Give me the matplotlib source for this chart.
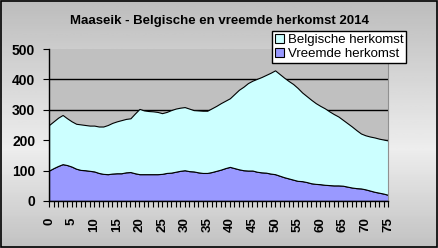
import matplotlib.pyplot as plt
import numpy as np

# ages 0..75
ages = list(range(76))

vreemde = [100, 108, 115, 121, 118, 113, 106, 102, 101, 99,
           97, 92, 89, 88, 90, 91, 91, 94, 95, 91,
           88, 88, 88, 88, 88, 89, 92, 93, 96, 99,
           101, 98, 97, 94, 92, 92, 95, 99, 103, 108,
           112, 108, 104, 101, 100, 100, 96, 94, 93, 90,
           88, 83, 78, 74, 70, 66, 65, 62, 58, 56,
           55, 53, 52, 51, 51, 50, 47, 44, 42, 41,
           38, 34, 30, 27, 24, 20]

belgische = [150, 154, 159, 162, 154, 149, 148, 150, 149, 149,
             151, 153, 156, 162, 167, 171, 175, 176, 177, 197,
             215, 210, 208, 207, 205, 200, 201, 206, 208, 208,
             208, 206, 202, 204, 205, 205, 210, 214, 219, 222,
             226, 244, 262, 275, 288, 296, 306, 314, 322, 332,
             342, 335, 328, 321, 315, 306, 292, 283, 275, 266,
             258, 252, 243, 235, 227, 217, 209, 201, 191, 181,
             178, 178, 179, 178, 178, 179]

fig = plt.figure(figsize=(4.38, 2.48), dpi=100)

# grey gradient background with a black frame
bg = fig.add_axes([0, 0, 1, 1], zorder=-10)
grad = np.concatenate([np.linspace(0.74, 0.93, 60), np.linspace(0.93, 0.76, 40)])
bg.imshow(grad[:, None], cmap="gray", vmin=0, vmax=1, aspect="auto", extent=[0, 1, 0, 1])
bg.set_xlim(0, 1)
bg.set_ylim(0, 1)
bg.axis("off")
fig.patches.append(plt.Rectangle((0.002, 0.004), 0.995, 0.992, transform=fig.transFigure,
                                 fill=False, edgecolor="black", linewidth=1.2))

ax = fig.add_axes([0.112, 0.19, 0.774, 0.612])
ax.set_facecolor("#C0C0C0")
ax.stackplot(ages, vreemde, belgische, colors=["#9999FF", "#CCFFFF"],
             edgecolor="black", linewidth=0.8, labels=["Vreemde herkomst", "Belgische herkomst"])

ax.set_xlim(0, 75)
ax.set_ylim(0, 500)
ax.set_yticks(range(0, 501, 100))
for y in range(100, 500, 100):
    ax.axhline(y, color="black", linewidth=1, zorder=0.5)
ax.set_xticks(range(0, 76, 5))
ax.set_xticks(range(76), minor=True)
ax.tick_params(axis="x", which="both", direction="out", length=4, width=0.8)
ax.tick_params(axis="x", which="major", labelsize=9.5, rotation=90, pad=8)
ax.tick_params(axis="y", direction="out", length=4, width=0.8, labelsize=10, pad=6)
for lab in ax.get_xticklabels() + ax.get_yticklabels():
    lab.set_fontweight("bold")
    lab.set_family("Liberation Sans")
ax.spines["top"].set_visible(False)
ax.spines["right"].set_color("#909090")
ax.spines["left"].set_linewidth(1)
ax.spines["bottom"].set_linewidth(1)

fig.text(0.5, 0.915, "Maaseik - Belgische en vreemde herkomst 2014", ha="center", va="center",
         fontsize=9.5, fontweight="bold", family="Liberation Sans")

handles, labels = ax.get_legend_handles_labels()
leg = ax.legend(handles[::-1], labels[::-1], loc="upper right", bbox_to_anchor=(0.927, 0.873),
                bbox_transform=fig.transFigure, frameon=True, fancybox=False, framealpha=1,
                edgecolor="black", handlelength=0.7, handleheight=0.7, handletextpad=0.3,
                borderpad=0.2, labelspacing=0.1, borderaxespad=0,
                prop={"family": "Liberation Sans", "size": 9.5})
leg.get_frame().set_linewidth(1)

fig.savefig("out.png", dpi=100)
